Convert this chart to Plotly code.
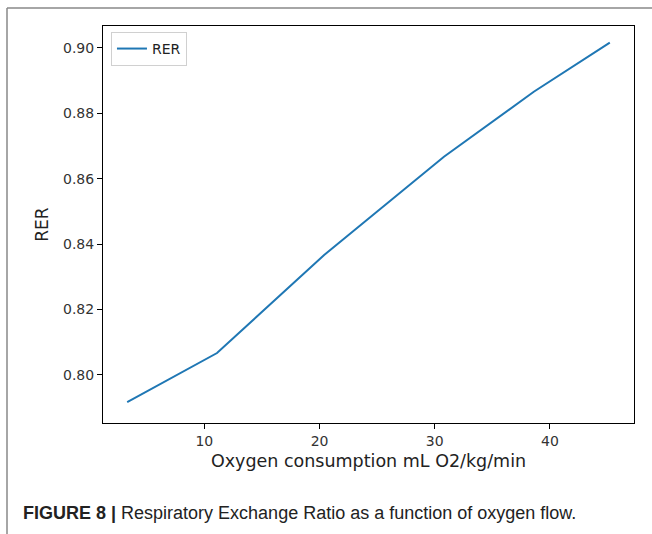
import plotly.graph_objects as go

# Data
oxygen = [3.3, 11.1, 20.4, 30.8, 38.6, 45.2]
rer = [0.7917, 0.8067, 0.8367, 0.8667, 0.8866, 0.9016]
x_ticks = [10, 20, 30, 40]
y_ticks = [0.80, 0.82, 0.84, 0.86, 0.88, 0.90]

W, H = 652, 534
L, R, T, B = 103, 18, 26, 111
pw, ph = W - L - R, H - T - B

def px(xp):
    return (xp - L) / pw

def py(yp):
    return (H - B - yp) / ph

fig = go.Figure()
fig.add_trace(go.Scatter(x=oxygen, y=rer, mode="lines", name="RER",
                         line=dict(color="#1f77b4", width=2)))

axis_common = dict(showgrid=False, zeroline=False, showline=True, linecolor="black",
                   linewidth=1, mirror=True, ticks="outside", ticklen=5, tickwidth=1,
                   tickcolor="black", tickfont=dict(family="DejaVu Sans", size=14, color="#333"))

fig.update_layout(
    width=W, height=H,
    margin=dict(l=L, r=R, t=T, b=B),
    paper_bgcolor="white", plot_bgcolor="white",
    xaxis=dict(range=[1.2, 47.3], tickvals=x_ticks, ticktext=[str(v) for v in x_ticks],
               title=dict(text="Oxygen consumption mL O2/kg/min",
                          font=dict(family="DejaVu Sans", size=17.5, color="#222"), standoff=6),
               **axis_common),
    yaxis=dict(range=[0.7853, 0.9067], tickvals=y_ticks, ticktext=[f"{v:.2f}" for v in y_ticks],
               title=dict(text="RER", font=dict(family="DejaVu Sans", size=17, color="#222"), standoff=10),
               **axis_common),
    legend=dict(x=0.015, y=0.985, xanchor="left", yanchor="top",
                bgcolor="white", bordercolor="#d0d0d0", borderwidth=1,
                font=dict(family="DejaVu Sans", size=14, color="#222")),
    showlegend=True,
)

# Outer figure frame (left and top lines)
fig.add_shape(type="line", xref="paper", yref="paper",
              x0=px(7), x1=px(7), y0=py(8), y1=py(540),
              line=dict(color="#888888", width=1.5))
fig.add_shape(type="line", xref="paper", yref="paper",
              x0=px(7), x1=px(660), y0=py(8), y1=py(8),
              line=dict(color="#888888", width=1.5))

fig.add_annotation(xref="paper", yref="paper", x=px(21), y=py(513),
                   xanchor="left", yanchor="middle", showarrow=False,
                   text="<b>FIGURE 8 |</b> Respiratory Exchange Ratio as a function of oxygen flow.",
                   font=dict(family="Liberation Sans", size=18, color="#222"))

fig.write_html("out.html")
